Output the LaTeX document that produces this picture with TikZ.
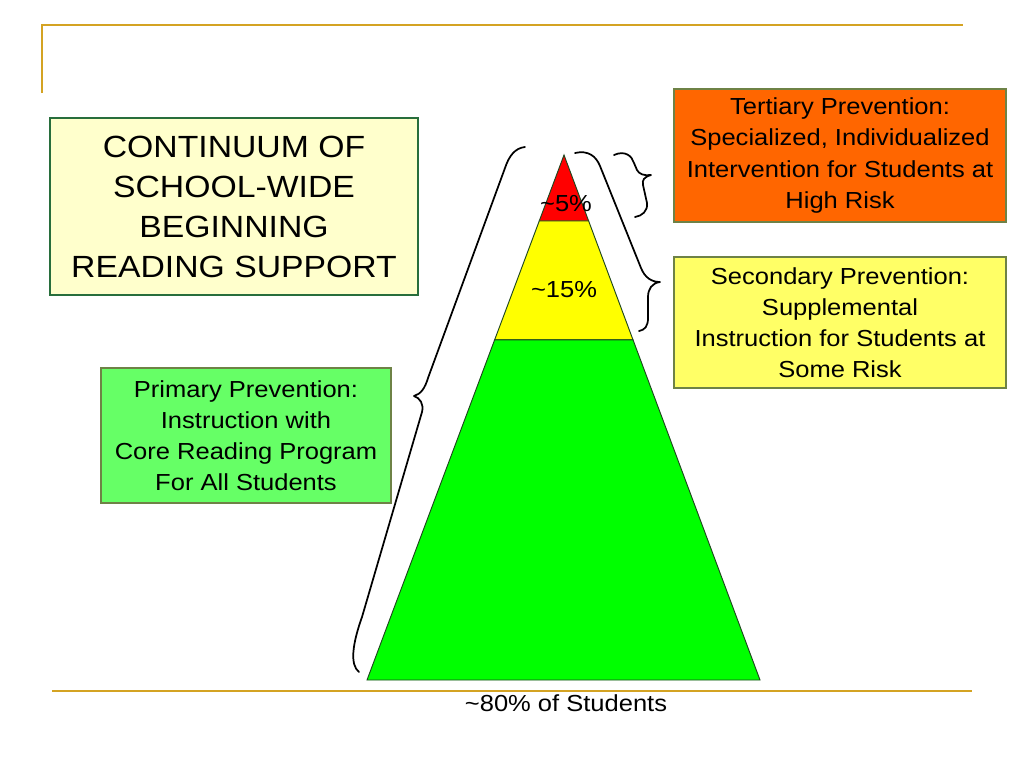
\documentclass[tikz,border=0pt]{standalone}
\usepackage{fontspec}
\setmainfont[FakeStretch=1.1]{Liberation Sans}
\usetikzlibrary{calc}
\definecolor{rulegold}{RGB}{212,163,35}
\definecolor{titlefill}{RGB}{255,255,204}
\definecolor{titleedge}{RGB}{40,110,60}
\definecolor{boxedge}{RGB}{110,130,70}
\definecolor{tertfill}{RGB}{255,102,0}
\definecolor{secfill}{RGB}{255,255,102}
\definecolor{primfill}{RGB}{102,255,102}
\definecolor{tierred}{RGB}{255,0,0}
\definecolor{tieryellow}{RGB}{255,255,0}
\definecolor{tiergreen}{RGB}{0,255,0}
\definecolor{tieredge}{RGB}{30,70,30}
\tikzset{
  infobox/.style={draw=boxedge,line width=0.8pt,align=center,inner sep=0pt,
    minimum width=249pt,font=\fontsize{17.4}{23.3}\selectfont},
  tierlabel/.style={font=\fontsize{17.4}{20}\selectfont,inner sep=1pt},
  brace/.style={line width=1.3pt,line cap=round,line join=round},
}
\begin{document}
\begin{tikzpicture}[x=0.75pt,y=-0.75pt]
\useasboundingbox (0,0) rectangle (1024,768);
% Draw slide rules
\draw[rulegold,line width=1.8pt] (42,93) -- (42,25) -- (963,25);
\draw[rulegold,line width=1.8pt] (52,691) -- (972,691);
% Draw pyramid
\coordinate (apex) at (564,155);
\coordinate (bl) at (367,680);
\coordinate (br) at (760,680);
\foreach \ta/\tb/\col in {0/.1257/tierred,.1257/.352/tieryellow,.352/1/tiergreen} {
	\filldraw[fill=\col,draw=tieredge,line width=0.7pt]
	  ($(apex)!\ta!(bl)$) -- ($(apex)!\tb!(bl)$)
	  -- ($(apex)!\tb!(br)$) -- ($(apex)!\ta!(br)$) -- cycle;
}
\node[tierlabel] (top) at (566,204) {\textasciitilde5\%};
\node[tierlabel] (mid) at (564,290) {\textasciitilde15\%};
\node[tierlabel] (base) at (566,703) {\textasciitilde80\% of Students};
% Draw boxes
\node[draw=titleedge,fill=titlefill,line width=1.6pt,align=center,inner sep=0pt,
  minimum width=276pt,minimum height=132.75pt,
  font=\fontsize{23}{30}\selectfont] (title) at (234,206.5)
  {CONTINUUM OF\\SCHOOL-WIDE\\BEGINNING\\READING SUPPORT};
\node[infobox,fill=tertfill,minimum height=99.75pt] (tertiary) at (840,155.5)
  {Tertiary Prevention:\\Specialized, Individualized\\Intervention for Students at\\High Risk};
\node[infobox,fill=secfill,minimum height=98.25pt] (secondary) at (840,322.5)
  {Secondary Prevention:\\Supplemental\\Instruction for Students at\\Some Risk};
\node[infobox,fill=primfill,minimum width=217.5pt,minimum height=101.25pt] (primary) at (246,435.5)
  {Primary Prevention:\\Instruction with\\Core Reading Program\\For All Students};
% Draw braces
\draw[brace] (525,147) .. controls (515,148) and (509,156) .. (505,168)
  -- (428,378) .. controls (425,388) and (421,394) .. (414,396)
  .. controls (420,398) and (424,404) .. (422,412)
  -- (362,617) .. controls (352,645) and (350,665) .. (359,672);
\draw[brace] (575,153) .. controls (588,150) and (596,156) .. (600,166)
  -- (641,268) .. controls (645,278) and (652,282) .. (660,282)
  .. controls (652,283) and (648,289) .. (648,297)
  -- (648,318) .. controls (648,326) and (645,330) .. (639,331);
\draw[brace] (614,155) .. controls (625,150) and (632,156) .. (634,163)
  -- (637,170) .. controls (639,174) and (644,176) .. (651,175)
  .. controls (644,177) and (642,180) .. (643,185)
  -- (647,203) .. controls (648,211) and (642,216) .. (635,217);
\end{tikzpicture}
\end{document}
